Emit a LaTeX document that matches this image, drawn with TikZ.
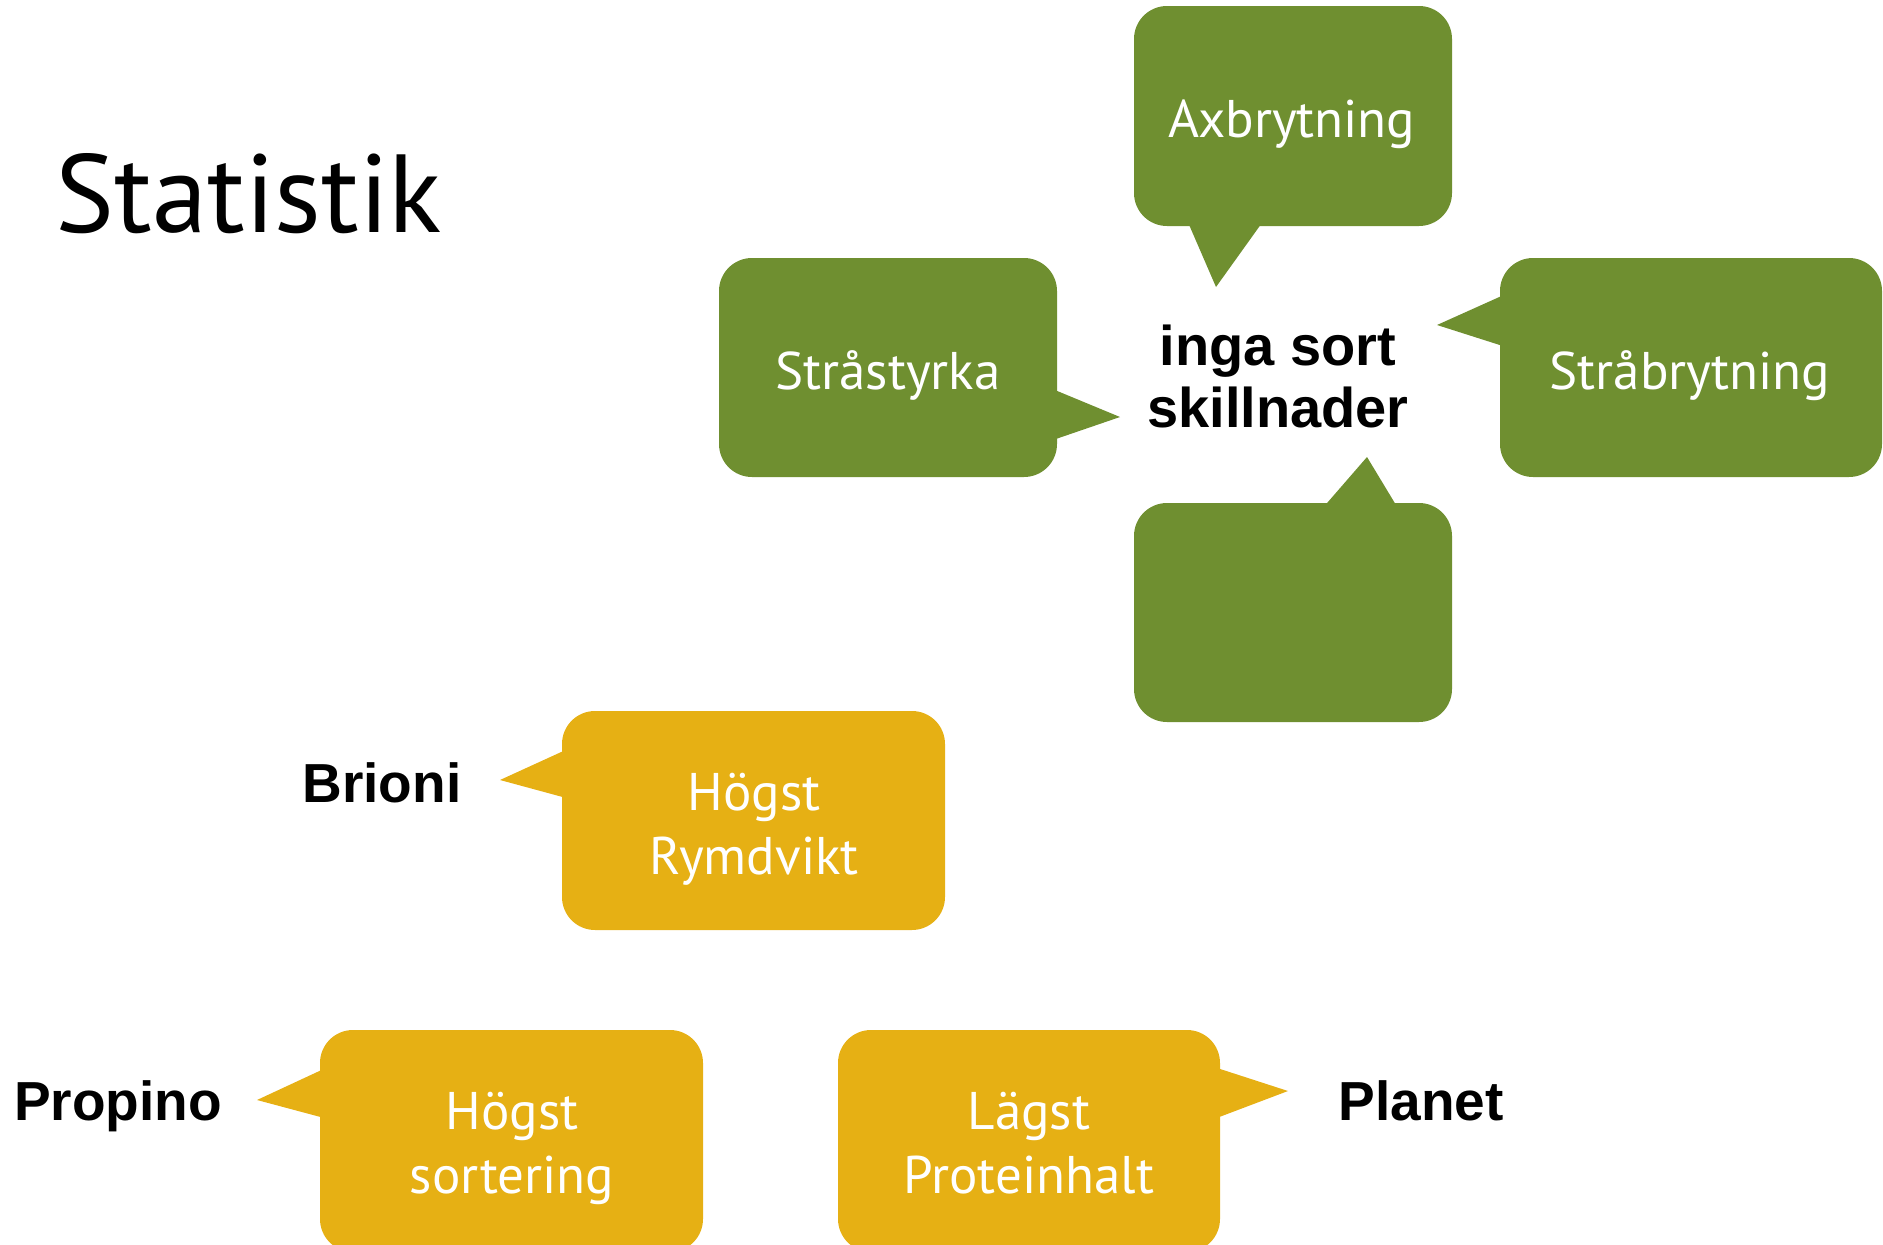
\documentclass[tikz,border=0pt]{standalone}
\usepackage{fontspec}
\setmainfont{PT Sans}
\newfontfamily\labfont{Liberation Sans}
\definecolor{grn}{RGB}{111,143,48}
\definecolor{ylw}{RGB}{230,176,20}
\begin{document}
\begin{tikzpicture}[x=1pt,y=-1pt,
  gbox/.style={fill=grn, rounded corners=33pt},
  ybox/.style={fill=ylw, rounded corners=33pt},
  gtip/.style={fill=grn},
  ytip/.style={fill=ylw},
  wtext/.style={text=white, font=\fontsize{53}{64}\selectfont, align=center, inner sep=0pt, anchor=base},
  ctext/.style={font=\labfont\bfseries\fontsize{56}{62}\selectfont, align=center, inner sep=0pt, anchor=base},
  ltext/.style={font=\labfont\bfseries\fontsize{55}{62}\selectfont, inner sep=0pt, anchor=base}]
\useasboundingbox (0,0) rectangle (1883,1245);
\clip (0,0) rectangle (1883,1245);

% title
\node[font=\fontsize{111}{120}\selectfont, inner sep=0pt, anchor=base] (title) at (249,232) {Statistik};

% green callouts
\fill[gbox] (1134,6) rectangle (1452,226);
\fill[gtip] (1187,220) -- (1216,287) -- (1264,220) -- cycle;
\node[wtext] (ax) at (1292,137) {Axbrytning};

\fill[gbox] (719,258) rectangle (1057,477);
\fill[gtip] (1050,388) -- (1120,417) -- (1050,441) -- cycle;
\node[wtext] (sty) at (888,389) {Stråstyrka};

\fill[gbox] (1500,258) rectangle (1882,477);
\fill[gtip] (1506,294) -- (1437,325) -- (1506,347) -- cycle;
\node[wtext] (sbr) at (1690,389) {Stråbrytning};

\fill[gbox] (1134,503) rectangle (1452,722);
\fill[gtip] (1321,510) -- (1367,457) -- (1399,510) -- cycle;

\node[ctext] (inga) at (1278,427) {inga sort\\skillnader};

% yellow callouts
\fill[ybox] (562,711) rectangle (945,930);
\fill[ytip] (570,748) -- (500,780) -- (570,799) -- cycle;
\node[wtext] (rym) at (754,874) {Högst\\Rymdvikt};
\node[ltext] (brioni) at (382,802) {Brioni};

\fill[ybox] (320,1030) rectangle (703,1252);
\fill[ytip] (328,1067) -- (257,1100) -- (328,1119) -- cycle;
\node[wtext] (sort) at (512,1193) {Högst\\sortering};
\node[ltext] (propino) at (118,1120) {Propino};

\fill[ybox] (838,1030) rectangle (1220,1252);
\fill[ytip] (1214,1067) -- (1288,1091) -- (1214,1119) -- cycle;
\node[wtext] (prot) at (1029,1193) {Lägst\\Proteinhalt};
\node[ltext] (planet) at (1421,1120) {Planet};
\end{tikzpicture}
\end{document}
